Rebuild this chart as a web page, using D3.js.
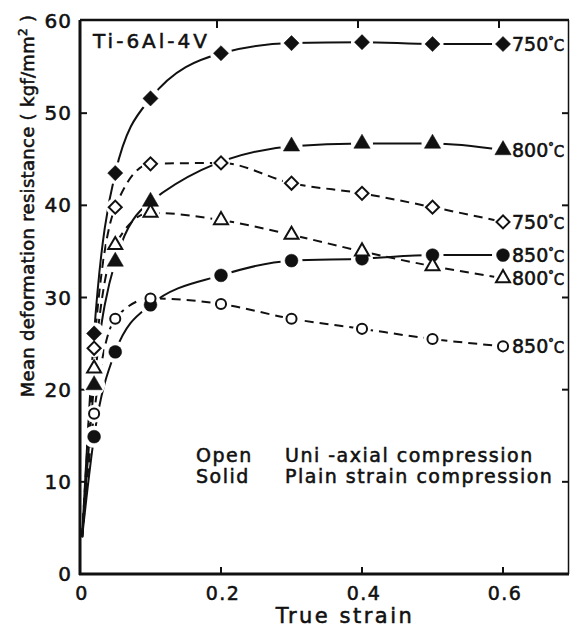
<!DOCTYPE html>
<html>
<head>
<meta charset="utf-8">
<script src="https://cdn.jsdelivr.net/npm/d3@7.9.0/dist/d3.min.js"></script>
<style>
  html, body { margin: 0; padding: 0; background: #fff; }
  svg { display: block; }
  text { font-family: "DejaVu Sans", sans-serif; fill: #111; stroke: #111; stroke-width: 0.55px; }
</style>
</head>
<body>
<div id="chart"></div>
<script>
// Strain values where the points were measured
const strain = [0.02, 0.05, 0.1, 0.2, 0.3, 0.4, 0.5, 0.6];

// Mean deformation resistance (kgf/mm2)
const solid750 = [26.1, 43.5, 51.6, 56.5, 57.6, 57.7, 57.5, 57.5];
const open750  = [24.5, 39.8, 44.5, 44.6, 42.4, 41.3, 39.8, 38.2];
const solid800 = [20.5, 33.9, 40.4, null, 46.4, 46.7, 46.7, 46.0];
const open800  = [22.3, 35.7, 39.2, 38.4, 36.8, 35.0, 33.4, 32.1];
const solid850 = [14.9, 24.1, 29.2, 32.4, 34.0, 34.2, 34.6, 34.6];
const open850  = [17.4, 27.7, 29.9, 29.3, 27.7, 26.6, 25.5, 24.7];

// where every curve leaves the origin region
const curveStart = [0.003, 4];

const xTicks = [0.2, 0.4, 0.6];
const yTicks = [0, 10, 20, 30, 40, 50, 60];

const series = [
  { name: "750", values: solid750, solid: true,  shape: "diamond" },
  { name: "800", values: solid800, solid: true,  shape: "triangle" },
  { name: "750", values: open750,  solid: false, shape: "diamond" },
  { name: "850", values: solid850, solid: true,  shape: "circle" },
  { name: "800", values: open800,  solid: false, shape: "triangle" },
  { name: "850", values: open850,  solid: false, shape: "circle" }
];

const width = 570;
const height = 628;

const svg = d3.select("#chart")
  .append("svg")
  .attr("width", width)
  .attr("height", height);

const x = d3.scaleLinear().domain([0, 0.6936]).range([80, 569]);
const y = d3.scaleLinear().domain([0, 60]).range([574, 21]);

// frame
svg.append("line").attr("x1", x(0)).attr("x2", x(0)).attr("y1", y(60) - 1).attr("y2", y(0) + 1)
  .attr("stroke", "#111").attr("stroke-width", 3);
svg.append("line").attr("x1", x(0) - 1).attr("x2", 569).attr("y1", y(0)).attr("y2", y(0))
  .attr("stroke", "#111").attr("stroke-width", 3);
svg.append("line").attr("x1", x(0)).attr("x2", 569).attr("y1", y(60) - 1).attr("y2", y(60) - 1)
  .attr("stroke", "#111").attr("stroke-width", 2.5);
svg.append("line").attr("x1", 568.5).attr("x2", 568.5).attr("y1", y(60) - 1).attr("y2", y(0))
  .attr("stroke", "#111").attr("stroke-width", 1.5);

// ticks pointing inwards on all four sides
const tickLen = 7;
svg.append("g").selectAll("line.xb").data(xTicks).join("line")
  .attr("x1", d => x(d)).attr("x2", d => x(d))
  .attr("y1", y(0)).attr("y2", y(0) - tickLen)
  .attr("stroke", "#111").attr("stroke-width", 2);
svg.append("g").selectAll("line.xt").data(xTicks).join("line")
  .attr("x1", d => x(d) - 4).attr("x2", d => x(d) - 4)
  .attr("y1", y(60)).attr("y2", y(60) + tickLen)
  .attr("stroke", "#111").attr("stroke-width", 2);
svg.append("g").selectAll("line.yl").data(yTicks.slice(1, -1)).join("line")
  .attr("x1", x(0)).attr("x2", x(0) + tickLen)
  .attr("y1", d => y(d)).attr("y2", d => y(d))
  .attr("stroke", "#111").attr("stroke-width", 2);
svg.append("g").selectAll("line.yr").data(yTicks.slice(1, -1)).join("line")
  .attr("x1", 569).attr("x2", 569 - tickLen)
  .attr("y1", d => y(d)).attr("y2", d => y(d))
  .attr("stroke", "#111").attr("stroke-width", 2);

// tick labels
svg.append("g").selectAll("text").data([0].concat(xTicks)).join("text")
  .attr("x", d => x(d) + 2)
  .attr("y", 600)
  .attr("text-anchor", "middle")
  .attr("font-size", 19)
  .attr("letter-spacing", 1.5)
  .text(d => d === 0 ? "0" : d3.format(".1f")(d));

svg.append("g").selectAll("text").data(yTicks).join("text")
  .attr("x", 72)
  .attr("y", d => y(d) + 7)
  .attr("text-anchor", "end")
  .attr("font-size", 20)
  .attr("letter-spacing", 1)
  .text(d => d);

// axis titles
svg.append("text")
  .attr("x", 345).attr("y", 623)
  .attr("text-anchor", "middle")
  .attr("font-size", 21)
  .attr("letter-spacing", 2.5)
  .text("True strain");

const yLab = svg.append("text")
  .attr("transform", "translate(34,206) rotate(-90)")
  .attr("text-anchor", "middle")
  .attr("font-size", 18)
  .attr("letter-spacing", 0.3);
yLab.append("tspan").text("Mean deformation resistance ( kgf/mm");
yLab.append("tspan").attr("font-size", 12).attr("dy", -7).text("2");
yLab.append("tspan").attr("dy", 7).text(" )");

svg.append("text")
  .attr("x", 93).attr("y", 48)
  .attr("font-size", 20)
  .attr("letter-spacing", 3)
  .text("Ti-6Al-4V");

// legend notes
const notes = [["Open", "Uni -axial compression", 462], ["Solid", "Plain strain compression", 483]];
notes.forEach(([a, b, yy]) => {
  svg.append("text").attr("x", 196).attr("y", yy)
    .attr("font-size", 19).attr("letter-spacing", 1.5).text(a);
  svg.append("text").attr("x", 285).attr("y", yy)
    .attr("font-size", 19).attr("letter-spacing", 1.5).text(b);
});

// curves
const line = d3.line()
  .x(d => x(d[0]))
  .y(d => y(d[1]))
  .curve(d3.curveMonotoneX);

const pointsOf = s => strain.map((t, i) => [t, s.values[i]]).filter(d => d[1] != null);

const lines = svg.append("g");
series.forEach(s => {
  lines.append("path")
    .datum([curveStart].concat(pointsOf(s)))
    .attr("d", line)
    .attr("fill", "none")
    .attr("stroke", "#111")
    .attr("stroke-width", 2)
    .attr("stroke-dasharray", s.solid ? null : "9,6");
});

// white halos leave small breaks in the lines round each marker
const halos = svg.append("g");
series.forEach(s => {
  halos.selectAll(null).data(pointsOf(s)).join("circle")
    .attr("cx", d => x(d[0]))
    .attr("cy", d => y(d[1]))
    .attr("r", s.solid ? 11 : 9)
    .attr("fill", "#fff");
});

// diamonds are squares turned by 45 degrees
const markerPath = {
  diamond: d3.symbol(d3.symbolSquare, 115)(),
  triangle: d3.symbol(d3.symbolTriangle, 115)(),
  circle: d3.symbol(d3.symbolCircle, 130)()
};
const openPath = {
  diamond: d3.symbol(d3.symbolSquare, 85)(),
  triangle: d3.symbol(d3.symbolTriangle, 85)(),
  circle: d3.symbol(d3.symbolCircle, 80)()
};

const marks = svg.append("g");
series.forEach(s => {
  marks.selectAll(null).data(pointsOf(s)).join("path")
    .attr("transform", d => `translate(${x(d[0])},${y(d[1])})` + (s.shape === "diamond" ? " rotate(45)" : ""))
    .attr("d", s.solid ? markerPath[s.shape] : openPath[s.shape])
    .attr("fill", s.solid ? "#111" : "#fff")
    .attr("stroke", "#111")
    .attr("stroke-width", s.solid ? 0.5 : 2);
});

// temperature labels at the end of each curve
series.forEach(s => {
  const last = pointsOf(s).slice(-1)[0];
  const t = svg.append("text")
    .attr("x", x(last[0]) + 9)
    .attr("y", y(last[1]) + 7);
  t.append("tspan").attr("font-size", 19).text(s.name);
  t.append("tspan").attr("font-size", 11).attr("dy", -7).attr("font-weight", "bold").text("°");
  t.append("tspan").attr("font-size", 15).attr("dy", 7).text("C");
});
</script>
</body>
</html>
